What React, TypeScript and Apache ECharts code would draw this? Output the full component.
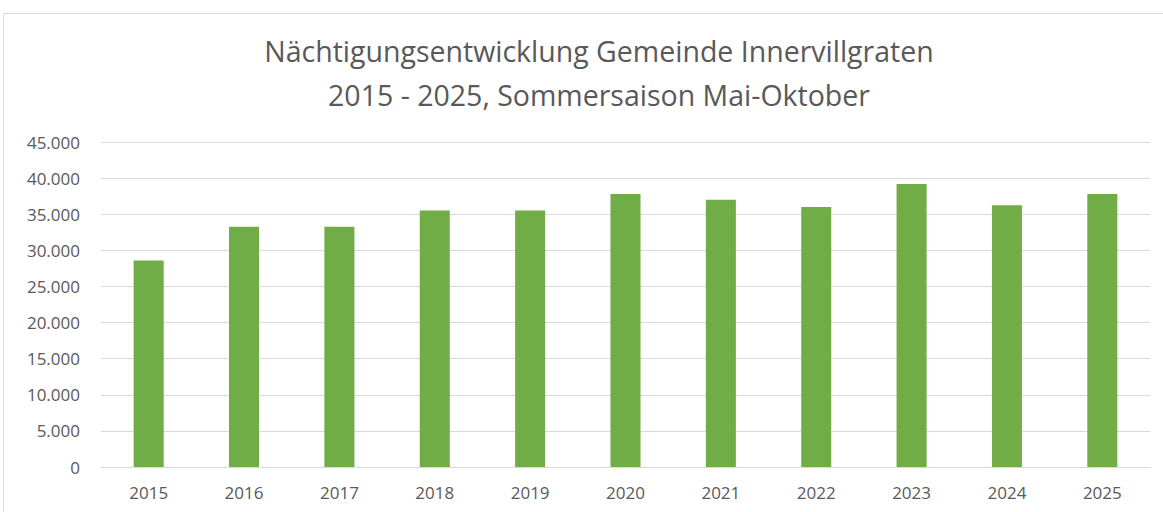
import React, { useEffect, useRef } from "react";
import * as echarts from "echarts";

const years = ["2015", "2016", "2017", "2018", "2019", "2020", "2021", "2022", "2023", "2024", "2025"];
const overnightStays = [28600, 33250, 33250, 35500, 35500, 37800, 37000, 36000, 39200, 36250, 37800];
const titleLine1 = "Nächtigungsentwicklung Gemeinde Innervillgraten";
const titleLine2 = "2015 - 2025, Sommersaison Mai-Oktober";

const fmt = (v: number) => String(v).replace(/\B(?=(\d{3})+(?!\d))/g, ".");

export default function App() {
  const ref = useRef<HTMLDivElement>(null);
  useEffect(() => {
    document.body.style.margin = "0";
    const chart = echarts.init(ref.current!, null, { renderer: "svg" });
    const font = "'Open Sans', 'Noto Sans', sans-serif";
    chart.setOption({
      animation: false,
      backgroundColor: "#ffffff",
      graphic: [
        {
          type: "rect",
          shape: { x: 3.5, y: 13.5, width: 1170, height: 520 },
          style: { fill: "none", stroke: "#d9d9d9", lineWidth: 1 },
          silent: true,
        },
      ],
      title: [
        {
          text: titleLine1,
          left: 594,
          top: 31,
          textAlign: "center",
          textStyle: { fontFamily: font, fontSize: 28.5, fontWeight: "normal", color: "#595959" },
        },
        {
          text: titleLine2,
          left: 594,
          top: 75,
          textAlign: "center",
          textStyle: { fontFamily: font, fontSize: 28.5, fontWeight: "normal", color: "#595959" },
        },
      ],
      grid: { left: 101, right: 13, top: 142, bottom: 45, containLabel: false },
      xAxis: {
        type: "category",
        data: years,
        axisLine: { show: true, lineStyle: { color: "#d9d9d9", width: 1 } },
        axisTick: { show: false },
        axisLabel: { color: "#595959", fontSize: 17, fontFamily: font, margin: 17 },
      },
      yAxis: {
        type: "value",
        min: 0,
        max: 45000,
        interval: 5000,
        axisLine: { show: false },
        axisTick: { show: false },
        axisLabel: { color: "#595959", fontSize: 17, fontFamily: font, margin: 21, formatter: (v: number) => fmt(v) },
        splitLine: { lineStyle: { color: "#d9d9d9", width: 1 } },
      },
      series: [
        {
          type: "bar",
          data: overnightStays,
          barWidth: "31.5%",
          itemStyle: { color: "#70ad47" },
        },
      ],
    });
    return () => chart.dispose();
  }, []);
  return <div ref={ref} style={{ width: 1163, height: 512 }} />;
}
